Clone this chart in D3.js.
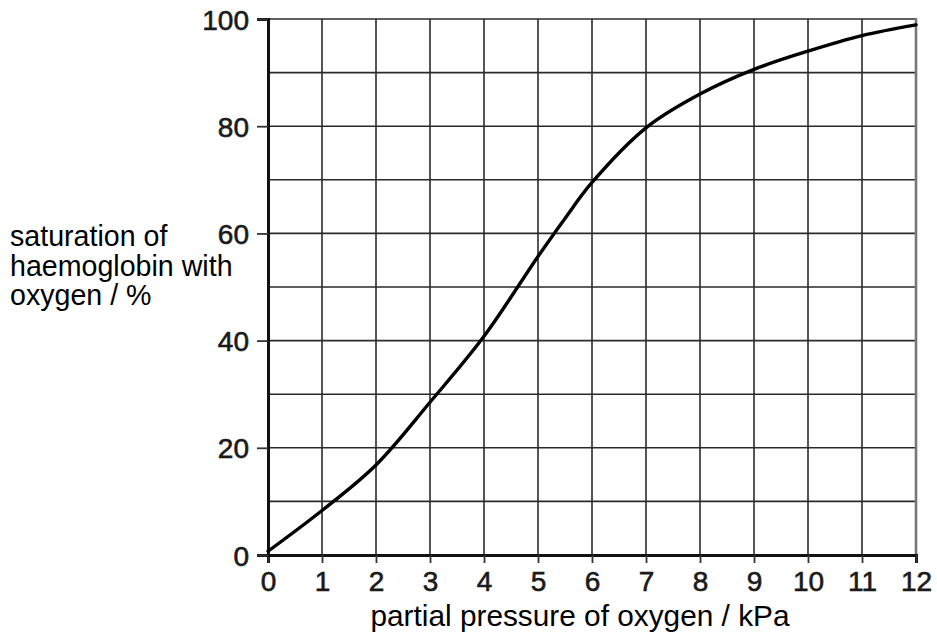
<!DOCTYPE html>
<html>
<head>
<meta charset="utf-8">
<script src="https://cdn.jsdelivr.net/npm/d3@7"></script>
<style>
  html, body { margin: 0; padding: 0; background: #fff; }
  svg { display: block; }
  text { font-family: "Liberation Sans", Arial, Helvetica, sans-serif; }
</style>
</head>
<body>
<svg id="chart" width="937" height="644"></svg>
<script>
// Data
const pressure = [0, 1, 2, 3, 4, 5, 5.5, 6, 7, 8, 9, 10, 11, 12];          // kPa
const saturation = [0.7, 8.3, 16.8, 28.5, 40.8, 55.7, 62.8, 69.5, 79.7, 86, 90.6, 94, 96.9, 98.9]; // %
const xTicks = [0, 1, 2, 3, 4, 5, 6, 7, 8, 9, 10, 11, 12];
const yTicks = [0, 20, 40, 60, 80, 100];
const yGrid = [0, 10, 20, 30, 40, 50, 60, 70, 80, 90, 100];
const xLabel = "partial pressure of oxygen / kPa";
const yLabelLines = ["saturation of", "haemoglobin with", "oxygen / %"];

const svg = d3.select("#chart");
const x = d3.scaleLinear().domain([0, 12]).range([268, 916]);
const y = d3.scaleLinear().domain([0, 100]).range([555, 19]);

// grid
const grid = svg.append("g").attr("stroke", "#2a2a2a").attr("stroke-width", 1.6);
grid.selectAll("line.v").data(xTicks).join("line")
  .attr("x1", d => x(d)).attr("x2", d => x(d))
  .attr("y1", y(100)).attr("y2", y(0));
grid.selectAll("line.h").data(yGrid).join("line")
  .attr("x1", x(0)).attr("x2", x(12))
  .attr("y1", d => y(d)).attr("y2", d => y(d));

// right border slightly heavier / greyer
svg.append("line").attr("x1", x(12)).attr("x2", x(12)).attr("y1", y(100) - 1).attr("y2", y(0))
  .attr("stroke", "#777").attr("stroke-width", 2.6);

// axes
const xAxis = svg.append("g").attr("transform", `translate(0,${y(0)})`)
  .call(d3.axisBottom(x).tickValues(xTicks).tickSize(8).tickPadding(8).tickFormat(d3.format("d")));
const yAxis = svg.append("g").attr("transform", `translate(${x(0)},0)`)
  .call(d3.axisLeft(y).tickValues(yTicks).tickSize(11).tickPadding(8).tickFormat(d3.format("d")));

[xAxis, yAxis].forEach(g => {
  g.select(".domain").attr("stroke", "#111").attr("stroke-width", 3);
  g.selectAll(".tick line").attr("stroke", "#333").attr("stroke-width", 1.8);
  g.selectAll(".tick text")
    .attr("font-family", "'Liberation Sans', Arial, sans-serif")
    .attr("font-size", 28).attr("fill", "#1a1a1a")
    .attr("stroke", "#1a1a1a").attr("stroke-width", 0.6);
});
yAxis.selectAll(".tick text").attr("dy", "0.36em");

// curve
const line = d3.line()
  .x((d, i) => x(pressure[i]))
  .y(d => y(d))
  .curve(d3.curveCatmullRom.alpha(0.5));
svg.append("path").datum(saturation)
  .attr("d", line)
  .attr("fill", "none").attr("stroke", "#000").attr("stroke-width", 3.4)
  .attr("stroke-linecap", "round");

// axis titles
svg.append("text").attr("x", 580).attr("y", 626)
  .attr("text-anchor", "middle").attr("font-size", 29.8).attr("fill", "#000")
  .text(xLabel);

const yl = svg.append("text").attr("x", 10).attr("y", 246)
  .attr("font-size", 28.6).attr("fill", "#000");
yl.selectAll("tspan").data(yLabelLines).join("tspan")
  .attr("x", 10).attr("dy", (d, i) => i === 0 ? 0 : 29.5)
  .text(d => d);
</script>
</body>
</html>
